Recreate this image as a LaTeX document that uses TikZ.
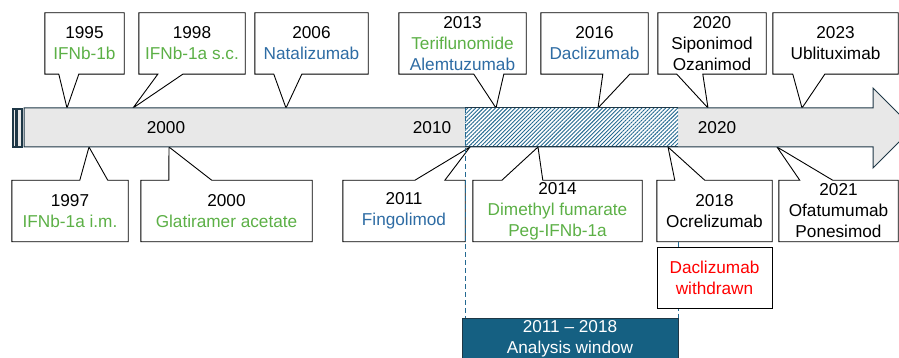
\documentclass[tikz,border=0pt]{standalone}
\usepackage{fontspec}
\setmainfont{Liberation Sans}
\usepackage{tikz}
\usetikzlibrary{calc, patterns.meta, backgrounds}
\usepackage{xcolor}

\definecolor{drugGreen}{RGB}{92,176,70}
\definecolor{drugBlue}{RGB}{46,108,164}
\definecolor{drugRed}{RGB}{255,0,0}
\definecolor{barEdge}{RGB}{30,55,70}
\definecolor{barFill}{RGB}{232,232,232}
\definecolor{windowTeal}{RGB}{21,96,130}
\definecolor{hatchTeal}{RGB}{35,105,145}

\begin{document}
\begin{tikzpicture}[x=1pt, y=-1pt, line join=miter,
    font=\fontsize{17.2}{21}\selectfont,
    callout/.style={minimum height=61pt, inner sep=0pt, align=center},
    outline/.style={draw=black, fill=white, line width=0.9pt},
    guide/.style={hatchTeal, line width=0.9pt, dash pattern=on 5pt off 3pt}]

    % Fix the page to the reference size
    \useasboundingbox (0,0) rectangle (899,358);

    % ==========================================
    % TIME BAR
    % ==========================================

    % Main arrow (tip runs past the right edge)
    \draw[barEdge, fill=barFill, line width=1pt] (24,108) -- (873,108) -- (873,88) -- (913,128)
        -- (873,168) -- (873,147) -- (24,147) -- cycle;

    % Two thin strips at the left end
    \draw[barEdge, fill=barFill, line width=1.4pt] (12.8,109) rectangle (16,147);
    \draw[barEdge, fill=barFill, line width=1.4pt] (17.5,109) rectangle (22,147);

    % Hatched part of the bar = analysis window
    \coordinate (hs) at (465,108);
    \coordinate (he) at (678,147);
    \fill[white] (hs) rectangle (he);
    \fill[pattern={Lines[angle=45, distance=2.8pt, line width=0.9pt]}, pattern color=hatchTeal] (hs) rectangle (he);
    \draw[barEdge, line width=1pt] (hs) -- (hs -| he);
    \draw[barEdge, line width=1pt] (he -| hs) -- (he);

    % Decade labels on the bar
    \node (d2000) at (166,128) {2000};
    \node (d2010) at (432,128) {2010};
    \node (d2020) at (717,128) {2020};

    % ==========================================
    % CALLOUTS ABOVE THE BAR
    % ==========================================

    % Pointer tips on the top edge of the bar
    \coordinate (t1995) at (67,108);
    \coordinate (t1998) at (133,108);
    \coordinate (t2006) at (286,108);
    \coordinate (t2013) at (496,108);
    \coordinate (t2016) at (598,108);
    \coordinate (t2020) at (708,108);
    \coordinate (t2023) at (802,108);

    \node[callout, minimum width=79pt] (c1995) at (84.5,43.5) {1995\\\textcolor{drugGreen}{IFNb-1b}};
    \node[callout, minimum width=106pt] (c1998) at (192,43.5) {1998\\\textcolor{drugGreen}{IFNb-1a s.c.}};
    \node[callout, minimum width=113pt] (c2006) at (311.5,43.5) {2006\\\textcolor{drugBlue}{Natalizumab}};
    \node[callout, minimum width=127pt] (c2013) at (462.5,43.5) {2013\\\textcolor{drugGreen}{Teriflunomide}\\\textcolor{drugBlue}{Alemtuzumab}};
    \node[callout, minimum width=107pt] (c2016) at (594.5,43.5) {2016\\\textcolor{drugBlue}{Daclizumab}};
    \node[callout, minimum width=108pt] (c2020) at (712,43.5) {2020\\Siponimod\\Ozanimod};
    \node[callout, minimum width=125pt] (c2023) at (835.5,43.5) {2023\\Ublituximab};

    % ==========================================
    % CALLOUTS BELOW THE BAR
    % ==========================================

    % Pointer tips on the bottom edge of the bar
    \coordinate (t1997) at (89,147);
    \coordinate (t2000) at (169,147);
    \coordinate (t2011) at (470,147);
    \coordinate (t2014) at (538,147);
    \coordinate (t2018) at (668,147);
    \coordinate (t2021) at (777,147);

    \node[callout, minimum width=116pt] (c1997) at (70,211) {1997\\\textcolor{drugGreen}{IFNb-1a i.m.}};
    \node[callout, minimum width=171pt] (c2000) at (226.5,211) {2000\\\textcolor{drugGreen}{Glatiramer acetate}};
    \node[callout, minimum width=122pt] (c2011) at (404,211) {2011\\\textcolor{drugBlue}{Fingolimod}};
    \node[callout, minimum width=169pt] (c2014) at (557.5,211) {2014\\\textcolor{drugGreen}{Dimethyl fumarate}\\\textcolor{drugGreen}{Peg-IFNb-1a}};
    \node[callout, minimum width=115pt] (c2018) at (714.5,211) {2018\\Ocrelizumab};
    \node[callout, minimum width=119pt] (c2021) at (838.5,211) {2021\\Ofatumumab\\Ponesimod};

    % ==========================================
    % ANALYSIS WINDOW
    % ==========================================
    \node[fill=windowTeal, draw=barEdge, text=white, align=center, inner sep=0pt,
        minimum width=216pt, minimum height=42pt] (win) at (570,339)
        {2011 -- 2018\\Analysis window};

    % Dashed guides down to the window box
    \draw[guide] (hs) -- (hs |- win.north);
    \draw[guide] (he |- c2018.south) -- (he |- win.north);

    % Withdrawal note under 2018 (covers the guide)
    \node[callout, draw=black, fill=white, line width=0.9pt, minimum width=115pt] (cWd) at (714.5,278)
        {\textcolor{drugRed}{Daclizumab}\\\textcolor{drugRed}{withdrawn}};

    % ==========================================
    % CALLOUT OUTLINES (box + pointer), behind the texts
    % ==========================================
    \begin{pgfonlayer}{background}
    % above
    \draw[outline] (c1995.north west) -| (c1995.south east) -- ($(c1995.south west)+(34,0)$) -- (t1995) -- ($(c1995.south west)+(14,0)$) -- (c1995.south west) -- cycle;
    \draw[outline] (c1998.north west) -| (c1998.south east) -- ($(c1998.south west)+(44,0)$) -- (t1998) -- ($(c1998.south west)+(19,0)$) -- (c1998.south west) -- cycle;
    \draw[outline] (c2006.north west) -| (c2006.south east) -- ($(c2006.south west)+(47,0)$) -- (t2006) -- ($(c2006.south west)+(19,0)$) -- (c2006.south west) -- cycle;
    \draw[outline] (c2013.north west) -| (c2013.south east) -- ($(c2013.south west)+(105,0)$) -- (t2013) -- ($(c2013.south west)+(75,0)$) -- (c2013.south west) -- cycle;
    \draw[outline] (c2016.north west) -| (c2016.south east) -- ($(c2016.south west)+(89,0)$) -- (t2016) -- ($(c2016.south west)+(62,0)$) -- (c2016.south west) -- cycle;
    \draw[outline] (c2020.north west) -| (c2020.south east) -- ($(c2020.south west)+(45,0)$) -- (t2020) -- ($(c2020.south west)+(19,0)$) -- (c2020.south west) -- cycle;
    \draw[outline] (c2023.north west) -| (c2023.south east) -- ($(c2023.south west)+(52,0)$) -- (t2023) -- ($(c2023.south west)+(20,0)$) -- (c2023.south west) -- cycle;
    % below
    \draw[outline] (c1997.south west) -| (c1997.north east) -- ($(c1997.north west)+(96,0)$) -- (t1997) -- ($(c1997.north west)+(68,0)$) -- (c1997.north west) -- cycle;
    \draw[outline] (c2000.south west) -| (c2000.north east) -- ($(c2000.north west)+(71,0)$) -- (t2000) -- ($(c2000.north west)+(28,0)$) -- (c2000.north west) -- cycle;
    \draw[outline] (c2011.south west) -| (c2011.north east) -- ($(c2011.north west)+(102,0)$) -- (t2011) -- ($(c2011.north west)+(72,0)$) -- (c2011.north west) -- cycle;
    \draw[outline] (c2014.south west) -| (c2014.north east) -- ($(c2014.north west)+(70,0)$) -- (t2014) -- ($(c2014.north west)+(29,0)$) -- (c2014.north west) -- cycle;
    \draw[outline] (c2018.south west) -| (c2018.north east) -- ($(c2018.north west)+(48,0)$) -- (t2018) -- ($(c2018.north west)+(18,0)$) -- (c2018.north west) -- cycle;
    \draw[outline] (c2021.south west) -| (c2021.north east) -- ($(c2021.north west)+(54,0)$) -- (t2021) -- ($(c2021.north west)+(21,0)$) -- (c2021.north west) -- cycle;
    \end{pgfonlayer}

\end{tikzpicture}
\end{document}
